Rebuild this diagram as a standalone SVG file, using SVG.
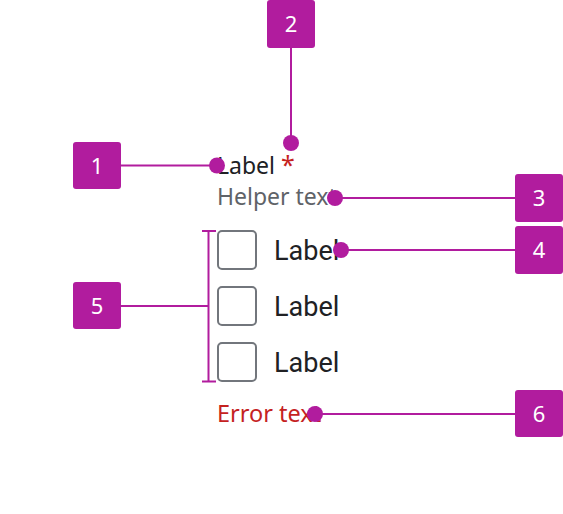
<svg xmlns="http://www.w3.org/2000/svg" width="563" height="514" viewBox="0 0 563 514">
<style>
.badge rect{fill:#b11c9e}
.badge text{fill:#fff;font-family:"Noto Sans",Roboto,sans-serif;font-size:22px;text-anchor:middle}
.conn line,.conn path{stroke:#b11c9e;stroke-width:2;fill:none}
.conn circle{fill:#b11c9e}
.txt{font-family:"Noto Sans",Roboto,sans-serif}
.lbl{font-family:Roboto,"Noto Sans",sans-serif;font-size:27px;fill:#202124}
.cb{fill:#fff;stroke:#72767c;stroke-width:2}
</style>
<rect width="563" height="514" fill="#fff"/>
<g id="field">
<text class="txt" x="217" y="174" font-size="23" fill="#202124">Label <tspan fill="#c5221f" font-size="25">*</tspan></text>
<text class="txt" x="217" y="205" font-size="23" fill="#5f6368">Helper text</text>
<rect class="cb" x="218" y="231" width="38" height="38" rx="4"/>
<text class="lbl" x="274" y="260">Label</text>
<rect class="cb" x="218" y="287" width="38" height="38" rx="4"/>
<text class="lbl" x="274" y="316">Label</text>
<rect class="cb" x="218" y="343" width="38" height="38" rx="4"/>
<text class="lbl" x="274" y="372">Label</text>
<text class="txt" x="217" y="422" font-size="23.5" fill="#c5221f">Error text</text>
</g>
<g class="conn" id="connectors">
<line x1="121" y1="165.5" x2="217" y2="165.5"/>
<circle cx="217" cy="165.5" r="8"/>
<line x1="291" y1="48" x2="291" y2="143"/>
<circle cx="291" cy="143" r="8"/>
<line x1="335" y1="198" x2="515" y2="198"/>
<circle cx="335" cy="198" r="8"/>
<line x1="341" y1="250" x2="515" y2="250"/>
<circle cx="341" cy="250" r="8"/>
<path d="M121 306H208.5M202 231H216M202 381.5H216M208.5 230V382.5"/>
<line x1="315" y1="414" x2="515" y2="414"/>
<circle cx="315" cy="414" r="8"/>
</g>
<g class="badge" id="badge1"><rect x="73" y="142" width="48" height="47" rx="3"/><text x="97" y="173.5">1</text></g>
<g class="badge" id="badge2"><rect x="267" y="0" width="48" height="48" rx="3"/><text x="291" y="32">2</text></g>
<g class="badge" id="badge3"><rect x="515" y="174" width="48" height="48" rx="3"/><text x="539" y="206">3</text></g>
<g class="badge" id="badge4"><rect x="515" y="226" width="48" height="48" rx="3"/><text x="539" y="258">4</text></g>
<g class="badge" id="badge5"><rect x="73" y="282" width="48" height="47" rx="3"/><text x="97" y="313.5">5</text></g>
<g class="badge" id="badge6"><rect x="515" y="390" width="48" height="47" rx="3"/><text x="539" y="421.5">6</text></g>
</svg>
